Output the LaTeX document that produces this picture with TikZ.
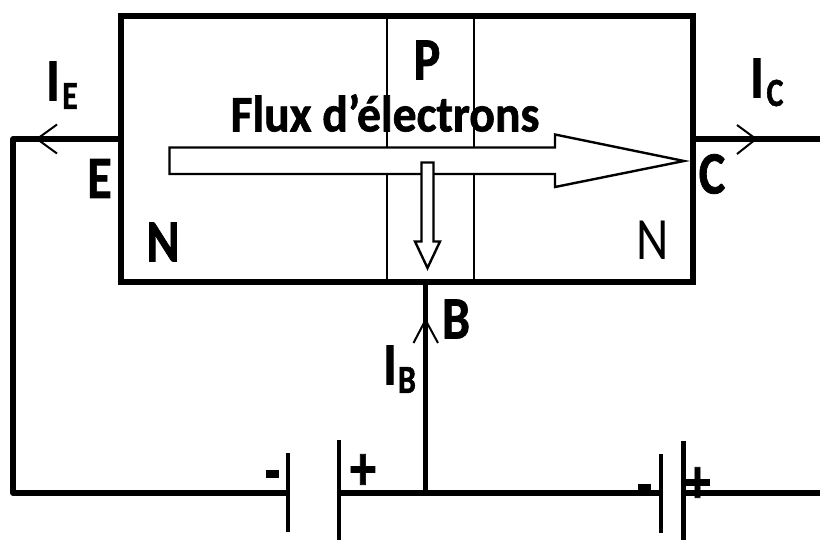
\documentclass[tikz,border=0pt]{standalone}
\usepackage{graphicx}
\usepackage{fontspec}
\setmainfont{Carlito}[BoldFeatures={FakeBold=1.3}]
\newcommand{\lab}[3]{\scalebox{#1}[#2]{\fontsize{40}{40}\selectfont\bfseries #3}}
\newcommand{\labr}[3]{\scalebox{#1}[#2]{\fontsize{40}{40}\selectfont #3}}
\tikzset{
  heavy/.style={line width=6pt,line cap=butt,line join=miter},
  wire/.style={line width=5.6pt,line join=round},
  plate/.style={line width=4.6pt},
  thin wall/.style={line width=2pt},
  flow/.style={draw=black,fill=white,line width=2.4pt,line join=miter},
  tipbar/.style={line width=2pt,line join=miter},
  txt/.style={inner sep=0pt,outer sep=0pt,text=black}
}
\begin{document}
\begin{tikzpicture}[x=1pt,y=-1pt]
\useasboundingbox (0,0) rectangle (820,540);
% device
\coordinate (bNW) at (121,16.5);
\coordinate (bSE) at (693,282.5);
\coordinate (p1t) at (387,16.5);
\coordinate (p1b) at (387,282.5);
\coordinate (p2t) at (474,16.5);
\coordinate (p2b) at (474,282.5);
\draw[thin wall] (p1t) -- (p1b);
\draw[thin wall] (p2t) -- (p2b);
\draw[heavy] (bNW) rectangle (bSE);
% terminals and wiring
\coordinate (emit) at (121,139);
\coordinate (corner) at (13,139);
\coordinate (cornerb) at (13,493);
\coordinate (coll) at (693,139);
\coordinate (collend) at (820,139);
\coordinate (base) at (425.5,282.5);
\coordinate (junction) at (425.5,493);
\coordinate (p1) at (288,493);
\coordinate (p2) at (339,493);
\coordinate (p3) at (661,493);
\coordinate (p4) at (683.5,493);
\coordinate (wireend) at (820,493);
\draw[wire] (emit) -- (corner) -- (cornerb) -- (p1);
\draw[wire] (coll) -- (collend);
\draw[wire] (base) -- (junction);
\draw[wire] (p2) -- (p3);
\draw[line width=5.2pt] (p4) -- (wireend);
% battery plates
\draw[plate] (288,453) -- (288,532);
\draw[plate] (339,440) -- (339,540);
\draw[plate] (661,454) -- (661,533);
\draw[plate] (683.5,441) -- (683.5,540);
% current arrowheads
\draw[tipbar] (57,124.5) -- (37,139) -- (57,153.5);
\draw[tipbar] (737,125) -- (756,139) -- (737,154);
\draw[tipbar] (413.5,343) -- (425.5,320) -- (438,343);
% flow arrows
\draw[flow] (169.5,147.5) -- (555,147.5) -- (555,134.5) -- (684,161) -- (555,187) -- (555,174) -- (169.5,174) -- cycle;
\draw[flow] (421.5,162.5) -- (433.5,162.5) -- (433.5,241.5) -- (440,241.5) -- (427.5,268) -- (415,241.5) -- (421.5,241.5) -- cycle;
% labels
\node[txt] (flux) at (385,113) {\lab{1.19}{1.28}{Flux d’électrons}};
\node[txt] (P) at (427,60) {\lab{1.25}{1.5}{P}};
\node[txt] (E) at (99.5,178.5) {\lab{1.25}{1.5}{E}};
\node[txt] (Nl) at (163,242) {\lab{1.25}{1.5}{N}};
\node[txt] (Nr) at (652.5,240) {\labr{1.25}{1.5}{N}};
\node[txt] (C) at (712,174) {\lab{1.25}{1.5}{C}};
\node[txt] (B) at (456,319) {\lab{1.25}{1.5}{B}};
\node[txt] (IE1) at (53,81) {\lab{1.25}{1.5}{I}};
\node[txt] (IE2) at (70,96) {\labr{0.8}{1.0}{\bfseries E}};
\node[txt] (IC1) at (757,78) {\lab{1.25}{1.5}{I}};
\node[txt] (IC2) at (775,93) {\labr{0.8}{1.0}{\bfseries C}};
\node[txt] (IB1) at (390,365) {\lab{1.25}{1.5}{I}};
\node[txt] (IB2) at (407,380) {\labr{0.8}{1.0}{\bfseries B}};
\node[txt] (mi1) at (272,474) {\rule{13pt}{8pt}};
\node[txt] (pl1) at (363,472) {\lab{1.3}{1.6}{+}};
\node[txt] (mi2) at (644.5,487.5) {\rule{13pt}{7pt}};
\node[txt] (pl2) at (697.5,485) {\lab{1.3}{1.6}{+}};
\end{tikzpicture}
\end{document}
